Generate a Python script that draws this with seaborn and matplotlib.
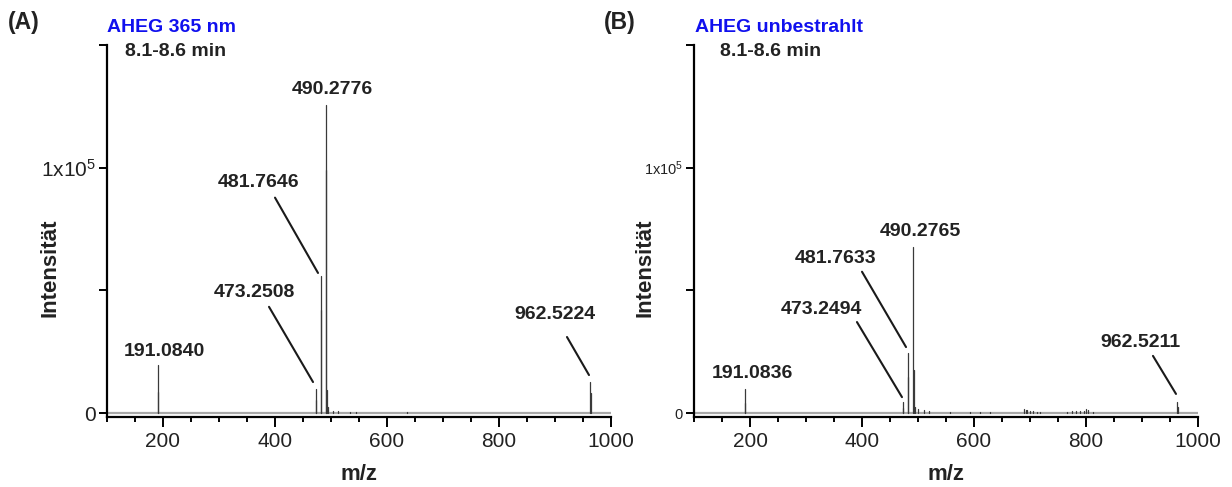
import numpy as np
import pandas as pd
import matplotlib
matplotlib.use("Agg")
import matplotlib.pyplot as plt
from matplotlib.ticker import MultipleLocator, FixedLocator, FixedFormatter
import seaborn as sns

# ---- spectrum data (m/z, intensity) ----
mz_a = [191.0840, 191.55, 473.2508, 473.75, 481.7646, 482.27, 490.2776, 490.78,
        492.3, 495.0, 504.0, 512.0, 534.0, 545.0, 636.0, 962.5224, 963.5]
int_a = [19600, 8600, 10000, 5300, 56000, 42000, 125700, 99000,
         9400, 2500, 700, 700, 500, 600, 600, 12700, 8000]

mz_b = [191.0836, 191.55, 473.2494, 473.75, 481.7633, 482.26, 490.2765, 492.3,
        495.0, 500.0, 510.0, 520.0, 557.0, 593.0, 610.0, 628.0,
        690.0, 692.0, 695.0, 700.0, 705.0, 712.0, 718.0,
        766.0, 775.0, 782.0, 790.0, 797.0, 800.0, 803.0, 812.0,
        962.5211, 963.5]
int_b = [10000, 4000, 4500, 2000, 24500, 14700, 67800, 17500,
         2500, 1500, 1200, 800, 500, 500, 600, 500,
         1600, 1200, 1400, 1000, 700, 600, 500,
         500, 700, 800, 900, 1000, 1800, 1100, 600,
         4500, 2500]

# indices of labelled peaks
labelled_a = [0, 2, 4, 6, 15]
labelled_b = [0, 2, 4, 6, 31]

panel_tags = ["(A)", "(B)"]
panel_titles = ["AHEG 365 nm", "AHEG unbestrahlt"]
time_window = "8.1-8.6 min"
x_label = "m/z"
y_label = "Intensität"
x_ticks = [200, 400, 600, 800, 1000]
y_ticks = [0, 50000, 100000, 150000]
y_ticklabels = ["0", "", r"1x10$^{5}$", ""]

sns.set_theme(style="ticks")
plt.rcParams["font.family"] = ["Liberation Sans", "DejaVu Sans"]
plt.rcParams["mathtext.fontset"] = "custom"
plt.rcParams["mathtext.rm"] = "Liberation Sans"
plt.rcParams["mathtext.default"] = "regular"

TXT = "#222222"

fig = plt.figure(figsize=(12.32, 4.87), dpi=100)
fig.patch.set_facecolor("white")

W, H = 1232, 487
ax_a = fig.add_axes([107 / W, 1 - 417 / H, 504 / W, 372 / H])
ax_b = fig.add_axes([694 / W, 1 - 417 / H, 504 / W, 372 / H])


def stick_frame(mz, inten):
    rows = []
    for i, (m, h) in enumerate(zip(mz, inten)):
        rows.append((m, 0.0, i))
        rows.append((m, h, i))
    return pd.DataFrame(rows, columns=["mz", "intensity", "peak"])


def draw_panel(ax, mz, inten, ytick_size):
    ax.set_facecolor("white")
    ax.axhline(0, color="#a8a8a8", lw=1.6, zorder=1)
    df = stick_frame(mz, inten)
    sns.lineplot(data=df, x="mz", y="intensity", units="peak", estimator=None,
                 sort=False, color="#3a3a3a", lw=0.9, ax=ax, legend=False,
                 zorder=2)
    ax.set_xlim(100, 1000)
    ax.set_ylim(-1600, 150000)
    for s in ["top", "right"]:
        ax.spines[s].set_visible(False)
    for s in ["left", "bottom"]:
        ax.spines[s].set_linewidth(1.6)
        ax.spines[s].set_color("black")
    ax.xaxis.set_major_locator(FixedLocator(x_ticks))
    ax.xaxis.set_minor_locator(MultipleLocator(50))
    ax.yaxis.set_major_locator(FixedLocator(y_ticks))
    ax.yaxis.set_major_formatter(FixedFormatter(y_ticklabels))
    ax.tick_params(axis="x", which="major", length=7, width=1.4,
                   labelsize=15, pad=4, colors="black", labelcolor=TXT)
    ax.tick_params(axis="x", which="minor", length=3.5, width=1.4,
                   colors="black")
    ax.tick_params(axis="y", which="major", length=6, width=1.4,
                   labelsize=ytick_size, pad=2, colors="black", labelcolor=TXT)
    ax.set_xlabel(x_label, fontsize=16, fontweight="bold", color=TXT)
    ax.set_ylabel(y_label, fontsize=16, fontweight="bold", color=TXT)
    ax.grid(False)


draw_panel(ax_a, mz_a, int_a, 15)
draw_panel(ax_b, mz_b, int_b, 10.5)

ax_a.xaxis.set_label_coords(0.5, -0.125)
ax_b.xaxis.set_label_coords(0.5, -0.125)
ax_a.yaxis.set_label_coords(-0.093, 0.40)
ax_b.yaxis.set_label_coords(-0.077, 0.40)

lab_kw = dict(fontsize=14, fontweight="bold", color=TXT, ha="center",
              va="center", annotation_clip=False)
line_kw = dict(arrowstyle="-", lw=1.5, color="#1a1a1a", shrinkA=0, shrinkB=0)

# label text position, leader start, leader end (data coordinates)
layout_a = {
    0: ((201.8, 24900), None),
    2: ((362.5, 49000), ((389.3, 43300), (467.9, 12650))),
    4: ((371.4, 93900), ((400.0, 87800), (476.8, 57100))),
    6: ((501.8, 131800), None),
    15: ((900.0, 40000), ((921.4, 31000), (960.7, 15500))),
}
layout_b = {
    0: ((203.6, 16300), None),
    2: ((326.8, 42400), ((391.0, 37100), (471.4, 6500))),
    4: ((353.6, 62900), ((400.0, 57600), (478.6, 26900))),
    6: ((503.6, 73900), None),
    31: ((896.4, 28600), ((919.6, 23300), (960.7, 7800))),
}


def annotate(ax, mz, idxs, layout):
    for i in idxs:
        (tx, ty), leader = layout[i]
        ax.annotate(f"{mz[i]:.4f}", xy=(tx, ty), **lab_kw)
        if leader is not None:
            (x0, y0), (x1, y1) = leader
            ax.annotate("", xy=(x1, y1), xytext=(x0, y0),
                        arrowprops=line_kw, annotation_clip=False)


annotate(ax_a, mz_a, labelled_a, layout_a)
annotate(ax_b, mz_b, labelled_b, layout_b)

# panel tags, titles, retention window
for x_tag, x_title, x_time, tag, title in [
        (8, 107, 125, panel_tags[0], panel_titles[0]),
        (604, 695, 720, panel_tags[1], panel_titles[1])]:
    fig.text(x_tag / W, 1 - 22 / H, tag, fontsize=16.5, fontweight="bold",
             color=TXT, ha="left", va="center")
    fig.text(x_title / W, 1 - 27 / H, title, fontsize=14, fontweight="bold",
             color="#1010ee", ha="left", va="center")
    fig.text(x_time / W, 1 - 52 / H, time_window, fontsize=14,
             fontweight="bold", color=TXT, ha="left", va="center")

fig.savefig("out.png", dpi=100, facecolor="white")
